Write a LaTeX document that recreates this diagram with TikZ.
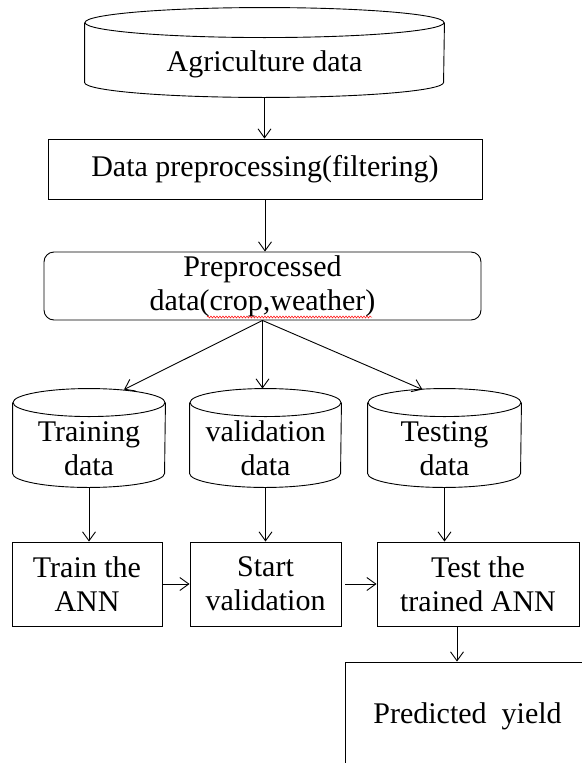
\documentclass[tikz,border=0pt]{standalone}
\usepackage{fontspec}
\setmainfont{Liberation Serif}
\usetikzlibrary{arrows.meta,calc,decorations.pathmorphing}
\tikzstyle{store}=[rectangle,inner sep=0pt,align=center,
                   minimum width=152pt,minimum height=98pt]
\tikzstyle{stepbox}=[rectangle,draw,inner sep=0pt,align=center]
\tikzstyle{flow}=[-{Straight Barb[length=9pt,width=13pt]}]
% lowers the text below the cap of a data store
\newcommand{\lift}[1]{\rule{0pt}{#1}}
% outline of a data store round node #1: half width #2, cap height #3
\newcommand{\drum}[3]{%
  \draw ($(#1.north)+(0,#3)$) ellipse [x radius=#2pt,y radius=#3pt];
  \draw ($(#1.north west)+(0,#3)$) -- ($(#1.south west)+(0,-#3)$)
        arc [start angle=180,end angle=360,x radius=#2pt,y radius=#3pt]
        -- ($(#1.north east)+(0,#3)$);}

\begin{document}
\begin{tikzpicture}[x=1pt,y=-1pt,line width=0.9pt,
    font=\fontsize{30}{34}\selectfont]
  \useasboundingbox (0,0) rectangle (581,763);
  \node (agri) at (264.5,52.5) [store,minimum width=359pt,
                                minimum height=89pt]{\lift{45pt}Agriculture data};
  \drum{agri}{179.5}{15}
  \node (prep) at (265,169) [stepbox,minimum width=434pt,
                             minimum height=60pt]{Data preprocessing(filtering)};
  \node (clean) at (262.5,286) [stepbox,rounded corners=10pt,minimum width=437pt,
                                minimum height=68pt]{Preprocessed\\data(crop,weather)};
  % spell-check squiggle
  \draw[red,line width=0.5pt,decorate,
        decoration={snake,amplitude=1pt,segment length=3pt}] (207,317) -- (372,317);
  \node (traindata) at (89,438)    [store]{\lift{42pt}Training\\data};
  \node (validdata) at (265.5,438) [store,minimum width=151pt]{\lift{42pt}validation\\data};
  \node (testdata)  at (444.5,438) [store,minimum width=153pt]{\lift{42pt}Testing\\data};
  \drum{traindata}{76}{14}
  \drum{validdata}{75.5}{14}
  \drum{testdata}{76.5}{14}
  \node (trainann) at (87,584)    [stepbox,minimum width=150pt,
                                   minimum height=84pt]{Train the\\ANN};
  \node (startval) at (265.5,584) [stepbox,minimum width=151pt,
                                   minimum height=84pt]{Start\\validation};
  \node (testann)  at (478,584)   [stepbox,minimum width=202pt,
                                   minimum height=84pt]{Test the\\trained ANN};
  \node (yield) at (467.5,716) [stepbox,minimum width=245pt,
                                minimum height=108pt]{Predicted~~yield};
  \coordinate (fork) at ($(testann.south)+(-21,0)$);
  \draw[flow] (agri.south) -- (agri.south |- prep.north);
  \draw[flow] (prep.south) -- (prep.south |- clean.north);
  \draw[flow] (clean.south) -- ($(traindata.north)+(35,1)$);
  \draw[flow] (clean.south) -- (clean.south |- validdata.north);
  \draw[flow] (clean.south) -- ($(testdata.north)+(-22,1)$);
  \draw[flow] (traindata.south) -- (traindata.south |- trainann.north);
  \draw[flow] (validdata.south) -- (validdata.south |- startval.north);
  \draw[flow] (testdata.south) -- (testdata.south |- testann.north);
  \draw[flow] (trainann.east) -- (startval.west);
  \draw[flow] ([xshift=4pt]startval.east) -- (testann.west);
  \draw[flow] (fork) -- (fork |- yield.north);
\end{tikzpicture}
\end{document}
